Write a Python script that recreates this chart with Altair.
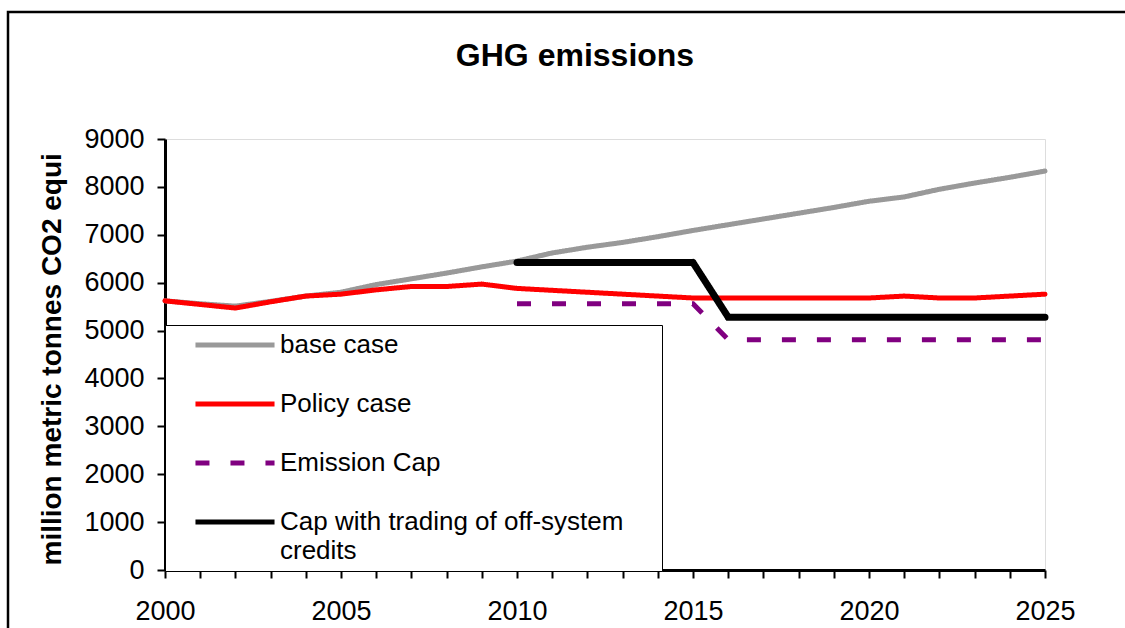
import altair as alt
import pandas as pd

# Annual GHG emissions, million metric tonnes CO2 equivalent
years = list(range(2000, 2026))
base_case = [5620, 5560, 5510, 5610, 5720, 5800, 5960, 6080, 6200, 6330,
             6450, 6620, 6740, 6840, 6960, 7090, 7210, 7330, 7450, 7570,
             7700, 7790, 7950, 8080, 8200, 8330]
policy_case = [5620, 5545, 5470, 5600, 5720, 5760, 5850, 5920, 5920, 5970,
               5880, 5840, 5800, 5760, 5720, 5680, 5680, 5680, 5680, 5680,
               5680, 5720, 5680, 5680, 5720, 5760]

cap_years = list(range(2010, 2026))
emission_cap = [5560, 5560, 5560, 5560, 5560, 5560,
                4810, 4810, 4810, 4810, 4810, 4810, 4810, 4810, 4810, 4810]
cap_with_trading = [6420, 6420, 6420, 6420, 6420, 6420,
                    5280, 5280, 5280, 5280, 5280, 5280, 5280, 5280, 5280, 5280]

series_names = ["base case", "Policy case", "Emission Cap",
                "Cap with trading of off-system credits"]
series_colors = ["#999999", "#ff0000", "#800080", "#000000"]
series_dashes = [[1, 0], [1, 0], [14, 21], [1, 0]]

y_ticks = [0, 1000, 2000, 3000, 4000, 5000, 6000, 7000, 8000, 9000]

rows = []
for name, xs, vals in [
    (series_names[0], years, base_case),
    (series_names[1], years, policy_case),
    (series_names[2], cap_years, emission_cap),
    (series_names[3], cap_years, cap_with_trading),
]:
    for x, v in zip(xs, vals):
        rows.append({"year": x, "emissions": v, "series": name})
df = pd.DataFrame(rows)

FONT = "Liberation Sans"

x_enc = alt.X(
    "year:Q",
    scale=alt.Scale(domain=[2000, 2025], nice=False, zero=False),
    axis=alt.Axis(
        title=None, values=years, format="d",
        labelExpr="datum.value % 5 === 0 ? datum.label : ''",
        labelOverlap=False, labelFlush=False, grid=False,
        tickSize=8, tickWidth=2, tickColor="black",
        domainWidth=3, domainColor="black",
        labelFontSize=27, labelFont=FONT, labelColor="black", labelPadding=20,
    ),
)
y_enc = alt.Y(
    "emissions:Q",
    scale=alt.Scale(domain=[0, 9000], nice=False),
    axis=alt.Axis(
        title="million metric tonnes CO2 equi",
        values=y_ticks, format="d", grid=False,
        tickSize=8, tickWidth=2, tickColor="black",
        domainWidth=3, domainColor="black",
        labelFontSize=27, labelFont=FONT, labelColor="black", labelPadding=13,
        titleFont=FONT, titleFontSize=28, titleFontWeight="bold", titleColor="black",
        titleAngle=270, titleAlign="left", titleBaseline="middle",
        titleX=-113, titleY=426,
    ),
)

# long horizontal stroke used as the legend swatch
swatch = "M-5,0L5,0"

# the wrapped label keeps a little trailing room so the legend box reaches further right
legend = alt.Legend(
    title=None, orient="none", legendX=0, legendY=186,
    symbolType=swatch, symbolSize=250, symbolStrokeWidth=5,
    labelFont=FONT, labelFontSize=26, labelColor="black", labelLimit=700,
    labelExpr=("datum.label == 'Cap with trading of off-system credits' ? "
               "['Cap with trading of off-system\u2002\u2002\u2009\u200b', 'credits'] : datum.label"),
    padding=7, symbolOffset=50, labelOffset=32, rowPadding=33,
    strokeColor="black", fillColor="white",
)

color_enc = alt.Color("series:N", scale=alt.Scale(domain=series_names, range=series_colors),
                      legend=legend, sort=series_names)
dash_enc = alt.StrokeDash("series:N", scale=alt.Scale(domain=series_names, range=series_dashes),
                          legend=legend, sort=series_names)

base = alt.Chart(df).encode(x=x_enc, y=y_enc, color=color_enc, strokeDash=dash_enc)

solid = base.mark_line(strokeCap="round", strokeJoin="miter", strokeWidth=5).transform_filter(
    alt.FieldOneOfPredicate(field="series", oneOf=series_names[:2]))
dashed = base.mark_line(strokeCap="butt", strokeWidth=5).transform_filter(
    alt.FieldEqualPredicate(field="series", equal=series_names[2]))
trading = base.mark_line(strokeCap="round", strokeJoin="miter", strokeWidth=7).transform_filter(
    alt.FieldEqualPredicate(field="series", equal=series_names[3]))

# outer frame around the whole figure
frame = alt.Chart(alt.Data(values=[{}])).mark_rect(
    fill=None, stroke="black", strokeWidth=2.5
).encode(x=alt.value(-157), x2=alt.value(1100), y=alt.value(-127), y2=alt.value(600))

chart = alt.layer(frame, solid, dashed, trading).properties(
    width=880, height=431,
    title=alt.Title("GHG emissions", font=FONT, fontSize=32, fontWeight="bold",
                    color="black", anchor="middle", frame="group", dx=-30,
                    baseline="alphabetic", offset=0, dy=87),
    autosize=alt.AutoSizeParams(type="none"),
    padding={"left": 165, "top": 139, "right": 80, "bottom": 58},
).configure_view(
    stroke="#808080", strokeWidth=2
).configure(
    background="white",
    style={"guide-label": {"lineHeight": 29}},
)

chart.save("out.html", embed_options={"renderer": "svg", "actions": False})
